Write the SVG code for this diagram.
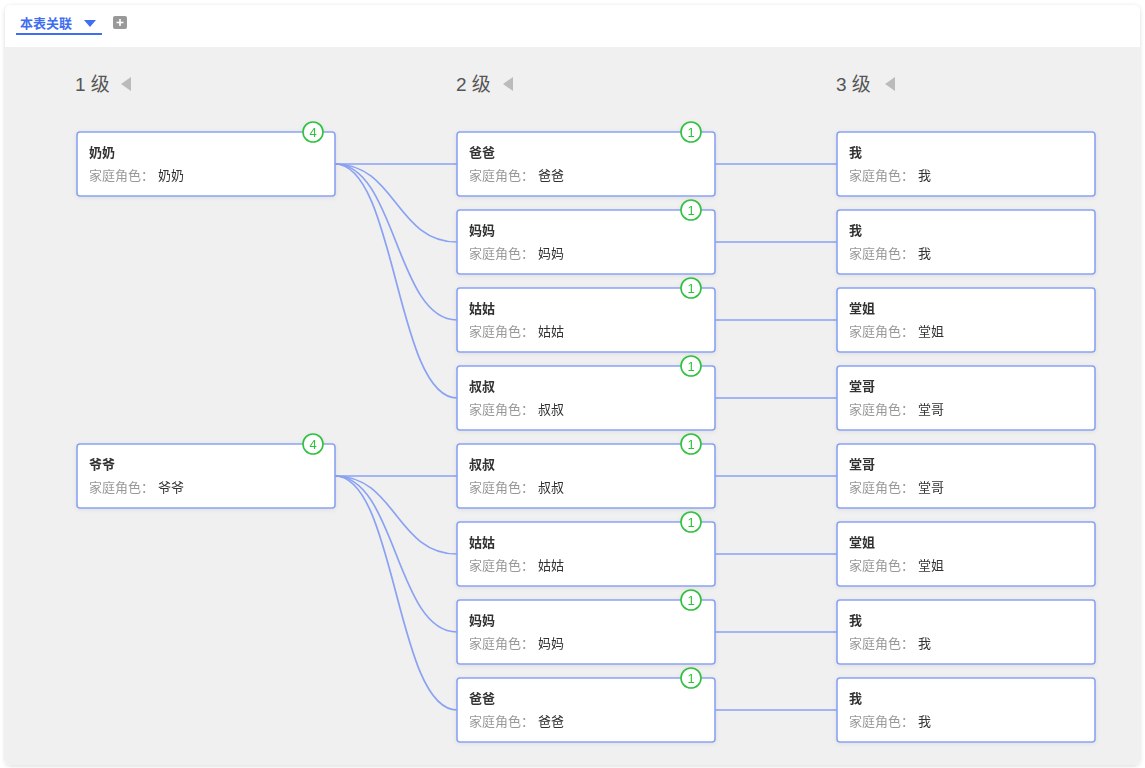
<svg xmlns="http://www.w3.org/2000/svg" width="1145" height="768" viewBox="0 0 1145 768">
<defs>
<style>
.t{font-family:"Liberation Sans","Noto Sans CJK SC",sans-serif}
.card{fill:#fff;stroke:#8aa2f3;stroke-width:1.6}
.title{font-size:13px;font-weight:bold;fill:#333}
.sub{font-size:13px;fill:#999}
.val{fill:#333}
.badge{fill:#fff;stroke:#2fc13e;stroke-width:1.6}
.bt{font-size:13px;fill:#2fc13e;text-anchor:middle}
.hdr{font-size:19px;fill:#555}
.tri{fill:#bbb}
.conn path{fill:none;stroke:#8aa2f3;stroke-width:1.7}
</style>
<filter id="sh" x="-5%" y="-5%" width="110%" height="110%"><feDropShadow dx="0" dy="1" stdDeviation="2" flood-color="#000" flood-opacity="0.15"/></filter>
<filter id="nsh" x="-10%" y="-10%" width="120%" height="130%"><feDropShadow dx="0" dy="1" stdDeviation="2" flood-color="#000" flood-opacity="0.08"/></filter>
</defs>
<rect width="1145" height="768" fill="#fff"/>
<rect x="5" y="5" width="1135" height="760" rx="6" fill="#fff" filter="url(#sh)"/>
<path d="M5 47H1140V759a6 6 0 0 1-6 6H11a6 6 0 0 1-6-6Z" fill="#f0f0f0"/>
<g id="tab">
<text class="t" x="20" y="28" font-size="13" font-weight="bold" fill="#3f6ef0">本表关联</text>
<path d="M84 20H96L90 27Z" fill="#3f6ef0"/>
<rect x="16" y="33" width="86" height="2" fill="#3f6ef0"/>
<rect x="113" y="16" width="14" height="13" rx="2" fill="#999"/>
<path d="M120 19V26M116.5 22.5H123.5" stroke="#fff" stroke-width="1.6"/>
</g>
<g id="headers">
<text class="t hdr" x="75" y="91">1 级</text><path class="tri" d="M131 77V91L121 84Z"/>
<text class="t hdr" x="456" y="91">2 级</text><path class="tri" d="M513 77V91L503 84Z"/>
<text class="t hdr" x="836" y="91">3 级</text><path class="tri" d="M895 77V91L885 84Z"/>
</g>
<g class="conn" id="connectors">
<path d="M335 164H457"/>
<path d="M335 164C396 164 396 242 457 242"/>
<path d="M335 164C396 164 396 320 457 320"/>
<path d="M335 164C396 164 396 398 457 398"/>
<path d="M335 476H457"/>
<path d="M335 476C396 476 396 554 457 554"/>
<path d="M335 476C396 476 396 632 457 632"/>
<path d="M335 476C396 476 396 710 457 710"/>
<path d="M715 164H837"/><path d="M715 242H837"/><path d="M715 320H837"/><path d="M715 398H837"/>
<path d="M715 476H837"/><path d="M715 554H837"/><path d="M715 632H837"/><path d="M715 710H837"/>
</g>
<g id="n1a" filter="url(#nsh)"><rect class="card" x="77" y="132" width="258" height="64" rx="3"/><text class="t title" x="89" y="157">奶奶</text><text class="t sub" x="89" y="180">家庭角色：<tspan class="val" dx="4">奶奶</tspan></text><circle class="badge" cx="313" cy="132" r="10"/><text class="t bt" x="313" y="136.5">4</text></g>
<g id="n1b" filter="url(#nsh)"><rect class="card" x="77" y="444" width="258" height="64" rx="3"/><text class="t title" x="89" y="469">爷爷</text><text class="t sub" x="89" y="492">家庭角色：<tspan class="val" dx="4">爷爷</tspan></text><circle class="badge" cx="313" cy="444" r="10"/><text class="t bt" x="313" y="448.5">4</text></g>
<g id="n2a" filter="url(#nsh)"><rect class="card" x="457" y="132" width="258" height="64" rx="3"/><text class="t title" x="469" y="157">爸爸</text><text class="t sub" x="469" y="180">家庭角色：<tspan class="val" dx="4">爸爸</tspan></text><circle class="badge" cx="691" cy="132" r="10"/><text class="t bt" x="691" y="136.5">1</text></g>
<g id="n2b" filter="url(#nsh)"><rect class="card" x="457" y="210" width="258" height="64" rx="3"/><text class="t title" x="469" y="235">妈妈</text><text class="t sub" x="469" y="258">家庭角色：<tspan class="val" dx="4">妈妈</tspan></text><circle class="badge" cx="691" cy="210" r="10"/><text class="t bt" x="691" y="214.5">1</text></g>
<g id="n2c" filter="url(#nsh)"><rect class="card" x="457" y="288" width="258" height="64" rx="3"/><text class="t title" x="469" y="313">姑姑</text><text class="t sub" x="469" y="336">家庭角色：<tspan class="val" dx="4">姑姑</tspan></text><circle class="badge" cx="691" cy="288" r="10"/><text class="t bt" x="691" y="292.5">1</text></g>
<g id="n2d" filter="url(#nsh)"><rect class="card" x="457" y="366" width="258" height="64" rx="3"/><text class="t title" x="469" y="391">叔叔</text><text class="t sub" x="469" y="414">家庭角色：<tspan class="val" dx="4">叔叔</tspan></text><circle class="badge" cx="691" cy="366" r="10"/><text class="t bt" x="691" y="370.5">1</text></g>
<g id="n2e" filter="url(#nsh)"><rect class="card" x="457" y="444" width="258" height="64" rx="3"/><text class="t title" x="469" y="469">叔叔</text><text class="t sub" x="469" y="492">家庭角色：<tspan class="val" dx="4">叔叔</tspan></text><circle class="badge" cx="691" cy="444" r="10"/><text class="t bt" x="691" y="448.5">1</text></g>
<g id="n2f" filter="url(#nsh)"><rect class="card" x="457" y="522" width="258" height="64" rx="3"/><text class="t title" x="469" y="547">姑姑</text><text class="t sub" x="469" y="570">家庭角色：<tspan class="val" dx="4">姑姑</tspan></text><circle class="badge" cx="691" cy="522" r="10"/><text class="t bt" x="691" y="526.5">1</text></g>
<g id="n2g" filter="url(#nsh)"><rect class="card" x="457" y="600" width="258" height="64" rx="3"/><text class="t title" x="469" y="625">妈妈</text><text class="t sub" x="469" y="648">家庭角色：<tspan class="val" dx="4">妈妈</tspan></text><circle class="badge" cx="691" cy="600" r="10"/><text class="t bt" x="691" y="604.5">1</text></g>
<g id="n2h" filter="url(#nsh)"><rect class="card" x="457" y="678" width="258" height="64" rx="3"/><text class="t title" x="469" y="703">爸爸</text><text class="t sub" x="469" y="726">家庭角色：<tspan class="val" dx="4">爸爸</tspan></text><circle class="badge" cx="691" cy="678" r="10"/><text class="t bt" x="691" y="682.5">1</text></g>
<g id="n3a" filter="url(#nsh)"><rect class="card" x="837" y="132" width="258" height="64" rx="3"/><text class="t title" x="849" y="157">我</text><text class="t sub" x="849" y="180">家庭角色：<tspan class="val" dx="4">我</tspan></text></g>
<g id="n3b" filter="url(#nsh)"><rect class="card" x="837" y="210" width="258" height="64" rx="3"/><text class="t title" x="849" y="235">我</text><text class="t sub" x="849" y="258">家庭角色：<tspan class="val" dx="4">我</tspan></text></g>
<g id="n3c" filter="url(#nsh)"><rect class="card" x="837" y="288" width="258" height="64" rx="3"/><text class="t title" x="849" y="313">堂姐</text><text class="t sub" x="849" y="336">家庭角色：<tspan class="val" dx="4">堂姐</tspan></text></g>
<g id="n3d" filter="url(#nsh)"><rect class="card" x="837" y="366" width="258" height="64" rx="3"/><text class="t title" x="849" y="391">堂哥</text><text class="t sub" x="849" y="414">家庭角色：<tspan class="val" dx="4">堂哥</tspan></text></g>
<g id="n3e" filter="url(#nsh)"><rect class="card" x="837" y="444" width="258" height="64" rx="3"/><text class="t title" x="849" y="469">堂哥</text><text class="t sub" x="849" y="492">家庭角色：<tspan class="val" dx="4">堂哥</tspan></text></g>
<g id="n3f" filter="url(#nsh)"><rect class="card" x="837" y="522" width="258" height="64" rx="3"/><text class="t title" x="849" y="547">堂姐</text><text class="t sub" x="849" y="570">家庭角色：<tspan class="val" dx="4">堂姐</tspan></text></g>
<g id="n3g" filter="url(#nsh)"><rect class="card" x="837" y="600" width="258" height="64" rx="3"/><text class="t title" x="849" y="625">我</text><text class="t sub" x="849" y="648">家庭角色：<tspan class="val" dx="4">我</tspan></text></g>
<g id="n3h" filter="url(#nsh)"><rect class="card" x="837" y="678" width="258" height="64" rx="3"/><text class="t title" x="849" y="703">我</text><text class="t sub" x="849" y="726">家庭角色：<tspan class="val" dx="4">我</tspan></text></g>
</svg>
